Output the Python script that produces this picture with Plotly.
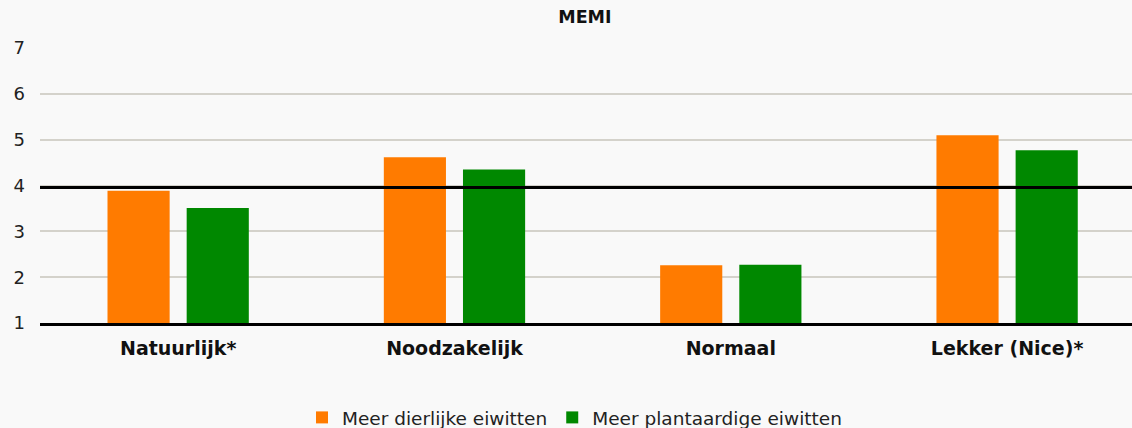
import plotly.graph_objects as go

# Survey scores per attribute (scale 1-7)
categories = ["Natuurlijk*", "Noodzakelijk", "Normaal", "Lekker (Nice)*"]
dierlijk = [3.89, 4.62, 2.26, 5.10]
plantaardig = [3.51, 4.35, 2.27, 4.77]
series_names = ["Meer dierlijke eiwitten", "Meer plantaardige eiwitten"]
reference_value = 3.96
y_ticks = [1, 2, 3, 4, 5, 6, 7]

ORANGE = "#FF7B00"
GREEN = "#008800"
FONT = "DejaVu Sans, Verdana, sans-serif"

fig = go.Figure()
fig.add_trace(go.Bar(x=categories, y=dierlijk, name=series_names[0],
                     marker=dict(color=ORANGE, line=dict(width=0))))
fig.add_trace(go.Bar(x=categories, y=plantaardig, name=series_names[1],
                     marker=dict(color=GREEN, line=dict(width=0))))

# Thick reference line across the plot
fig.add_shape(type="line", xref="paper", yref="y", x0=0, x1=1,
              y0=reference_value, y1=reference_value,
              line=dict(color="black", width=3), layer="above")

fig.update_layout(
    width=1132, height=428,
    margin=dict(l=40, r=0, t=48, b=105, autoexpand=False),
    paper_bgcolor="#f9f9f9", plot_bgcolor="#f9f9f9",
    font=dict(family=FONT, color="#222222", size=18),
    bargap=0.427, bargroupgap=0.215,
    title=dict(text="<b>MEMI</b>", x=0.499, xref="paper", xanchor="center",
               y=0.96, yanchor="middle", font=dict(size=17.5, color="#111111")),
    showlegend=True,
    legend=dict(orientation="h", x=(326 - 40 - 24) / 1092, xanchor="left",
                y=-0.345, yanchor="middle",
                font=dict(size=18.5, color="#222222"),
                itemwidth=30,
                bgcolor="rgba(0,0,0,0)", traceorder="normal"),
    xaxis=dict(range=[-0.5, 3.452], showgrid=False, showline=True,
               linecolor="black", linewidth=3, ticks="",
               tickfont=dict(size=19, color="#111111", family=FONT),
               tickprefix="<b>", ticksuffix="</b>", ticklabelstandoff=6,
               fixedrange=True),
    yaxis=dict(range=[1, 7.004], tickvals=y_ticks, showgrid=True,
               gridcolor="#d4d2cb", gridwidth=1.5, zeroline=False,
               showline=False, ticks="", ticklabelstandoff=14,
               tickfont=dict(size=18, color="#222222"), fixedrange=True),
)

fig.write_html("out.html")
